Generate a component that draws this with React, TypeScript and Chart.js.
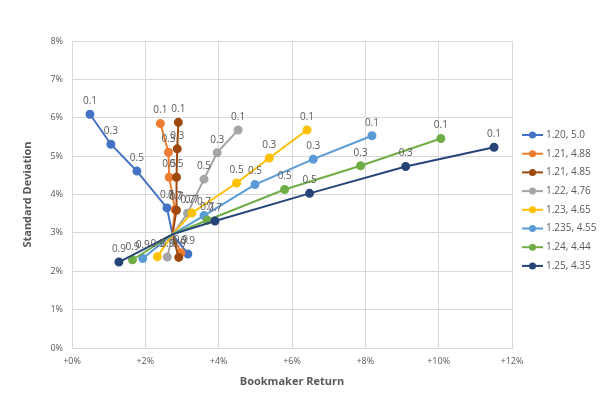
import React, { useEffect, useRef } from "react";
import { Chart, registerables } from "chart.js";

Chart.register(...registerables);

const seriesNames = ["1.20, 5.0", "1.21, 4.88", "1.21, 4.85", "1.22, 4.76", "1.23, 4.65", "1.235, 4.55", "1.24, 4.44", "1.25, 4.35"];
const colors = ["#4472C4", "#ED7D31", "#9E480E", "#A5A5A5", "#FFC000", "#5B9BD5", "#70AD47", "#264478"];
const pointLabels = ["0.1", "0.3", "0.5", "0.7", "", "0.9"];

// Bookmaker return (%) per series, points 0.1, 0.3, 0.5, 0.7, (crossing), 0.9
const returns1 = [0.49, 1.06, 1.77, 2.59, 2.74, 3.16];
const returns2 = [2.41, 2.63, 2.65, 2.81, 2.74, 2.97];
const returns3 = [2.90, 2.87, 2.85, 2.85, 2.74, 2.91];
const returns4 = [4.53, 3.96, 3.60, 3.15, 2.74, 2.60];
const returns5 = [6.41, 5.38, 4.49, 3.27, 2.74, 2.33];
const returns6 = [8.18, 6.58, 4.99, 3.60, 2.74, 1.93];
const returns7 = [10.06, 7.87, 5.80, 3.69, 2.74, 1.65];
const returns8 = [11.51, 9.10, 6.48, 3.90, 2.74, 1.28];

// Standard deviation (%) per series
const stdev1 = [6.09, 5.31, 4.61, 3.65, 2.96, 2.45];
const stdev2 = [5.85, 5.10, 4.45, 3.61, 2.96, 2.48];
const stdev3 = [5.88, 5.19, 4.45, 3.59, 2.96, 2.36];
const stdev4 = [5.68, 5.09, 4.40, 3.51, 2.96, 2.37];
const stdev5 = [5.68, 4.95, 4.30, 3.52, 2.96, 2.38];
const stdev6 = [5.53, 4.92, 4.26, 3.45, 2.96, 2.33];
const stdev7 = [5.46, 4.75, 4.13, 3.33, 2.96, 2.30];
const stdev8 = [5.23, 4.73, 4.03, 3.31, 2.96, 2.24];

const allReturns = [returns1, returns2, returns3, returns4, returns5, returns6, returns7, returns8];
const allStdev = [stdev1, stdev2, stdev3, stdev4, stdev5, stdev6, stdev7, stdev8];

const FONT = "'Open Sans', 'Liberation Sans', sans-serif";
const GREY = "#595959";

export default function App() {
  const ref = useRef<HTMLCanvasElement | null>(null);
  useEffect(() => {
    if (!ref.current) return;
    const datasets = seriesNames.map((name, i) => ({
      label: name,
      data: allReturns[i].map((x, j) => ({ x, y: allStdev[i][j] })),
      borderColor: colors[i],
      backgroundColor: colors[i],
      borderWidth: 2,
      pointRadius: pointLabels.map((l) => (l ? 3.5 : 0)),
      pointHoverRadius: 0,
      showLine: true,
      order: seriesNames.length - i,
      tension: 0,
    }));

    const labelPlugin = {
      id: "labels",
      afterDatasetsDraw(chart: any) {
        const ctx = chart.ctx;
        ctx.save();
        ctx.font = `10px ${FONT}`;
        ctx.fillStyle = GREY;
        ctx.textAlign = "center";
        ctx.textBaseline = "middle";
        chart.data.datasets.forEach((_: any, i: number) => {
          const meta = chart.getDatasetMeta(i);
          meta.data.forEach((pt: any, j: number) => {
            const t = pointLabels[j];
            if (t) ctx.fillText(t, pt.x, pt.y - 13);
          });
        });
        ctx.restore();
      },
    };

    const legendPlugin = {
      id: "customLegend",
      afterDraw(chart: any) {
        const ctx = chart.ctx;
        ctx.save();
        seriesNames.forEach((name, i) => {
          const y = 135 + i * 18.7;
          ctx.strokeStyle = colors[i];
          ctx.lineWidth = 2;
          ctx.beginPath();
          ctx.moveTo(522, y);
          ctx.lineTo(543, y);
          ctx.stroke();
          ctx.fillStyle = colors[i];
          ctx.beginPath();
          ctx.arc(532.5, y, 3.5, 0, Math.PI * 2);
          ctx.fill();
          ctx.fillStyle = GREY;
          ctx.font = `10px ${FONT}`;
          ctx.textAlign = "left";
          ctx.textBaseline = "middle";
          ctx.fillText(name, 546, y);
        });
        ctx.restore();
      },
    };

    const chart = new Chart(ref.current, {
      type: "scatter",
      data: { datasets },
      options: {
        animation: false,
        responsive: false,
        layout: { padding: { top: 41, right: 88, left: 0, bottom: 0 } },
        plugins: {
          legend: { display: false },
          tooltip: { enabled: false },
        },
        scales: {
          x: {
            type: "linear",
            min: 0,
            max: 12,
            ticks: {
              stepSize: 2,
              color: GREY,
              font: { family: FONT, size: 9 },
              padding: 8,
              callback: (v: any) => "+" + v + "%",
            },
            grid: { color: "#D9D9D9", drawTicks: false, lineWidth: 1 },
            border: { color: "#D9D9D9" },
            title: {
              display: true,
              text: "Bookmaker Return",
              color: GREY,
              font: { family: FONT, size: 11, weight: "bold" },
              padding: { top: 4, bottom: 11 },
            },
            afterFit: (s: any) => {
              s.height = 51;
            },
          },
          y: {
            type: "linear",
            min: 0,
            max: 8,
            ticks: {
              stepSize: 1,
              color: GREY,
              font: { family: FONT, size: 9 },
              padding: 9,
              callback: (v: any) => v + "%",
            },
            grid: { color: "#D9D9D9", drawTicks: false, lineWidth: 1 },
            border: { color: "#D9D9D9" },
            title: {
              display: true,
              text: "Standard Deviation",
              color: GREY,
              font: { family: FONT, size: 11, weight: "bold" },
              padding: { top: 21, bottom: 4 },
            },
            afterFit: (s: any) => {
              s.width = 72;
            },
          },
        },
      },
      plugins: [labelPlugin, legendPlugin],
    } as any);
    return () => chart.destroy();
  }, []);
  return (
    <div style={{ position: "fixed", left: 0, top: 0, width: 600, height: 399, background: "#fff" }}>
      <canvas ref={ref} width={600} height={399} style={{ width: 600, height: 399 }} />
    </div>
  );
}
